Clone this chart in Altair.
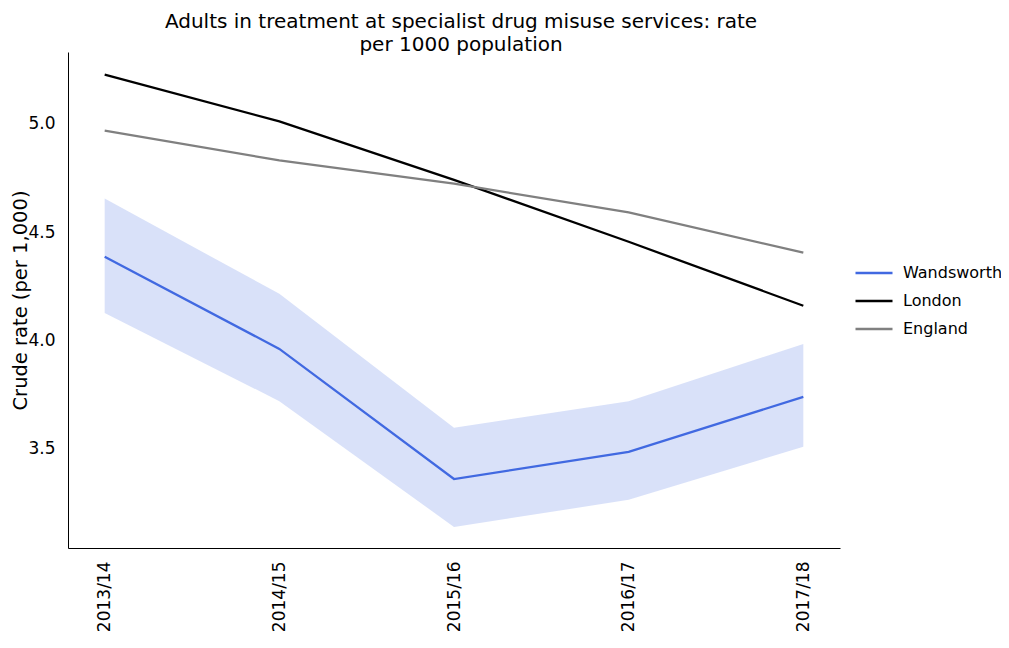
import altair as alt
import pandas as pd

years = ["2013/14", "2014/15", "2015/16", "2016/17", "2017/18"]
wandsworth = [4.386, 3.961, 3.361, 3.486, 3.740]
wand_upper = [4.654, 4.215, 3.597, 3.720, 3.984]
wand_lower = [4.127, 3.720, 3.140, 3.265, 3.510]
london = [5.226, 5.010, 4.740, 4.455, 4.160]
england = [4.968, 4.830, 4.723, 4.590, 4.405]

series_names = ["Wandsworth", "London", "England"]
series_colors = ["#4169e1", "#000000", "#808080"]

rows = []
for name, vals in zip(series_names, [wandsworth, london, england]):
    for y, v in zip(years, vals):
        rows.append({"year": y, "series": name, "value": v})
lines_df = pd.DataFrame(rows)
ci_df = pd.DataFrame({"year": years, "lower": wand_lower, "upper": wand_upper})

FONT = "DejaVu Sans"

x_enc = alt.X("year:O", sort=years, title=None,
              scale=alt.Scale(type="point", padding=0.21),
              axis=alt.Axis(labelAngle=-90, labelFontSize=17, labelPadding=13,
                            ticks=False, domainColor="#000000", labelColor="#000000",
                            labelFont=FONT, grid=False))
y_scale = alt.Scale(domain=[3.043, 5.33], nice=False, zero=False)

band = alt.Chart(ci_df).mark_area(color="#4169e1", opacity=0.2).encode(
    x=x_enc,
    y=alt.Y("lower:Q", scale=y_scale, title="Crude rate (per 1,000)",
            axis=alt.Axis(values=[3.5, 4.0, 4.5, 5.0], format=".1f", ticks=False,
                          labelFontSize=17, labelPadding=13, titleFontSize=19.5,
                          titleFontWeight="normal", titleX=-48, titleY=248,
                          titleAlign="center", titleBaseline="middle", grid=False,
                          domainColor="#000000", labelColor="#000000",
                          titleColor="#000000", labelFont=FONT, titleFont=FONT)),
    y2="upper:Q",
)

lines = alt.Chart(lines_df).mark_line(strokeWidth=2.3).encode(
    x=alt.X("year:O", sort=years),
    y=alt.Y("value:Q", scale=y_scale),
    color=alt.Color("series:N", sort=series_names,
                    scale=alt.Scale(domain=series_names, range=series_colors),
                    legend=alt.Legend(title=None, orient="none", legendX=786, legendY=201,
                                      symbolType="stroke", symbolSize=1369,
                                      symbolStrokeWidth=2.5, labelFontSize=16,
                                      labelFont=FONT, labelColor="#000000",
                                      labelOffset=9, rowPadding=-2.5)),
)

chart = alt.layer(band, lines).properties(
    width=772, height=496,
    title=alt.TitleParams(
        ["Adults in treatment at specialist drug misuse services: rate",
         "per 1000 population"],
        fontSize=20, fontWeight="normal", font=FONT, color="#000000",
        anchor="middle", offset=-3, dx=7, lineHeight=23.5),
    autosize=alt.AutoSizeParams(type="none"),
    padding={"left": 60, "top": 44, "right": 161, "bottom": 87},
).configure_view(stroke=None)

chart.save("out.html", embed_options={"renderer": "svg", "actions": False})
